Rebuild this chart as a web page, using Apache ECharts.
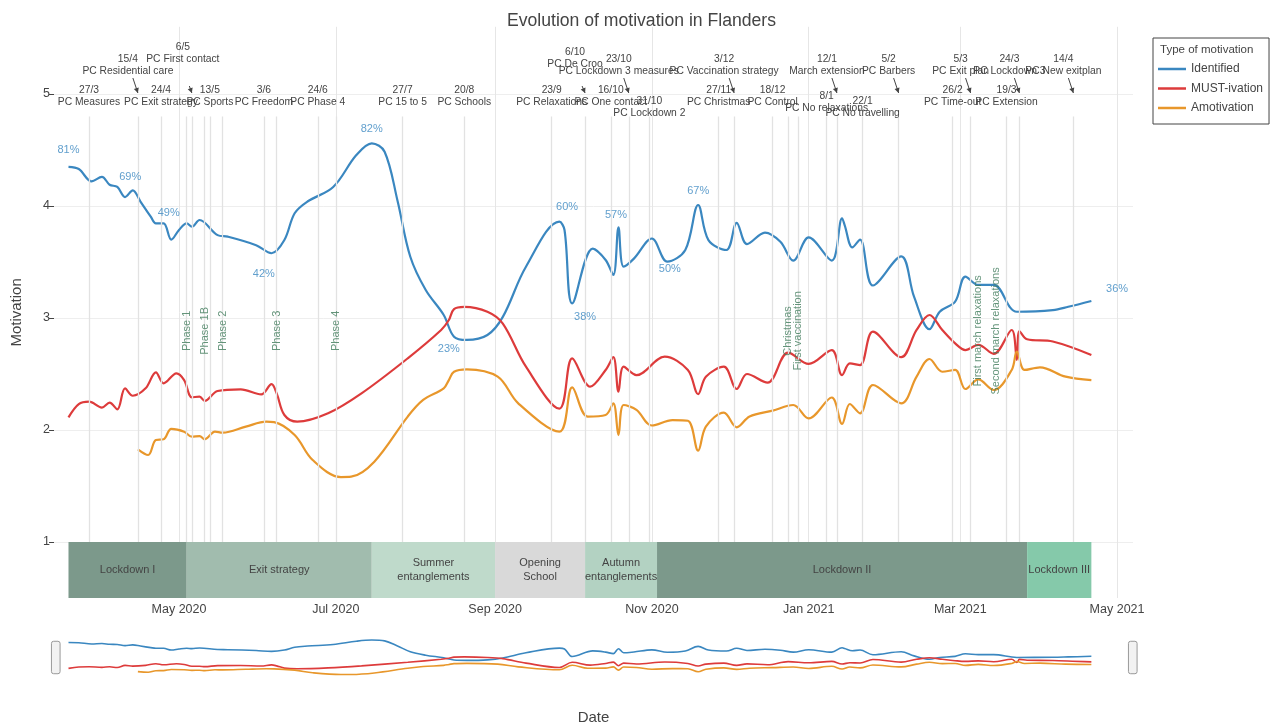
<!DOCTYPE html>
<html><head><meta charset="utf-8">
<script src="https://cdn.jsdelivr.net/npm/echarts@6/dist/echarts.min.js"></script>
<style>html,body{margin:0;padding:0;background:#fff}#c{width:1273px;height:724px}</style>
</head><body><div id="c"></div>
<script>
// ---------------- DATA ----------------
const seriesNames = ['Identified', 'MUST-ivation', 'Amotivation'];

const identified = [['2020-03-19',4.35],['2020-03-23',4.33],['2020-03-28',4.22],['2020-04-01',4.26],['2020-04-04',4.19],['2020-04-07',4.17],['2020-04-10',4.08],['2020-04-13',4.14],['2020-04-16',4.04],['2020-04-20',3.905],['2020-04-22',3.845],['2020-04-25',3.845],['2020-04-28',3.70],['2020-05-01',3.786],['2020-05-04',3.845],['2020-05-06',3.815],['2020-05-09',3.875],['2020-05-16',3.74],['2020-05-20',3.726],['2020-05-31',3.65],['2020-06-06',3.578],['2020-06-11',3.696],['2020-06-15',3.935],['2020-06-20',4.04],['2020-06-30',4.17],['2020-07-09',4.455],['2020-07-15',4.56],['2020-07-20',4.485],['2020-07-25',4.05],['2020-07-30',3.547],['2020-08-05',3.25],['2020-08-12',3.027],['2020-08-16',2.833],['2020-08-21',2.804],['2020-08-29',2.848],['2020-09-04',3.01],['2020-09-13',3.458],['2020-09-26',3.86],['2020-09-28',3.786],['2020-10-01',3.13],['2020-10-09',3.62],['2020-10-14',3.518],['2020-10-17',3.384],['2020-10-19',3.81],['2020-10-21',3.458],['2020-10-25',3.53],['2020-11-01',3.71],['2020-11-07',3.503],['2020-11-14',3.607],['2020-11-19',4.009],['2020-11-23',3.696],['2020-11-30',3.607],['2020-12-04',3.85],['2020-12-08',3.66],['2020-12-15',3.762],['2020-12-21',3.68],['2020-12-26',3.512],['2021-01-01',3.72],['2021-01-10',3.512],['2021-01-14',3.89],['2021-01-15',3.83],['2021-01-18',3.63],['2021-01-21',3.70],['2021-01-26',3.29],['2021-02-06',3.55],['2021-02-11',3.19],['2021-02-17',2.9],['2021-02-21',3.056],['2021-02-27',3.146],['2021-03-03',3.37],['2021-03-08',3.295],['2021-03-14',3.295],['2021-03-23',3.056],['2021-04-06',3.07],['2021-04-12',3.10],['2021-04-21',3.152]];

const mustivation = [['2020-03-19',2.113],['2020-03-23',2.232],['2020-03-27',2.253],['2020-04-01',2.2],['2020-04-04',2.244],['2020-04-07',2.185],['2020-04-10',2.372],['2020-04-13',2.306],['2020-04-18',2.372],['2020-04-22',2.515],['2020-04-25',2.417],['2020-04-30',2.506],['2020-05-03',2.446],['2020-05-06',2.292],['2020-05-09',2.298],['2020-05-11',2.26],['2020-05-16',2.348],['2020-05-25',2.363],['2020-06-02',2.318],['2020-06-06',2.41],['2020-06-08',2.327],['2020-06-11',2.134],['2020-06-16',2.074],['2020-06-28',2.149],['2020-07-11',2.327],['2020-07-29',2.64],['2020-08-11',2.893],['2020-08-14',2.982],['2020-08-16',3.08],['2020-08-20',3.1],['2020-08-29',3.056],['2020-09-04',2.95],['2020-09-13',2.565],['2020-09-26',2.19],['2020-10-01',2.64],['2020-10-08',2.387],['2020-10-14',2.536],['2020-10-17',2.65],['2020-10-19',2.342],['2020-10-21',2.565],['2020-10-26',2.49],['2020-11-06',2.655],['2020-11-15',2.536],['2020-11-19',2.32],['2020-11-22',2.476],['2020-11-29',2.565],['2020-12-04',2.366],['2020-12-08',2.5],['2020-12-16',2.423],['2020-12-24',2.69],['2021-01-01',2.59],['2021-01-10',2.714],['2021-01-14',2.49],['2021-01-17',2.595],['2021-01-21',2.58],['2021-01-26',2.878],['2021-02-06',2.65],['2021-02-12',2.893],['2021-02-17',3.027],['2021-02-22',2.893],['2021-02-27',2.774],['2021-03-03',2.714],['2021-03-08',2.76],['2021-03-14',2.68],['2021-03-21',2.893],['2021-03-23',2.625],['2021-03-24',2.884],['2021-03-27',2.81],['2021-04-06',2.79],['2021-04-21',2.67]];

const amotivation = [['2020-04-15',1.828],['2020-04-19',1.777],['2020-04-22',1.911],['2020-04-25',1.917],['2020-04-28',2.01],['2020-05-03',1.985],['2020-05-06',1.94],['2020-05-09',1.946],['2020-05-11',1.917],['2020-05-15',1.985],['2020-05-18',1.976],['2020-05-27',2.03],['2020-06-04',2.074],['2020-06-07',2.07],['2020-06-15',1.955],['2020-06-22',1.732],['2020-07-03',1.58],['2020-07-07',1.583],['2020-07-16',1.717],['2020-07-29',2.12],['2020-08-04',2.268],['2020-08-12',2.372],['2020-08-14',2.446],['2020-08-16',2.52],['2020-08-21',2.542],['2020-09-02',2.476],['2020-09-10',2.238],['2020-09-26',1.985],['2020-10-01',2.381],['2020-10-07',2.12],['2020-10-14',2.134],['2020-10-17',2.238],['2020-10-19',1.955],['2020-10-21',2.223],['2020-10-26',2.18],['2020-11-01',2.04],['2020-11-09',2.089],['2020-11-15',2.083],['2020-11-19',1.815],['2020-11-22',2.03],['2020-11-29',2.155],['2020-12-04',2.024],['2020-12-09',2.12],['2020-12-18',2.173],['2020-12-26',2.223],['2021-01-01',2.104],['2021-01-10',2.29],['2021-01-14',2.054],['2021-01-17',2.232],['2021-01-21',2.149],['2021-01-26',2.402],['2021-02-06',2.238],['2021-02-12',2.476],['2021-02-17',2.634],['2021-02-22',2.52],['2021-02-27',2.536],['2021-03-03',2.366],['2021-03-08',2.452],['2021-03-14',2.357],['2021-03-21',2.536],['2021-03-23',2.7],['2021-03-26',2.536],['2021-04-01',2.56],['2021-04-11',2.476],['2021-04-21',2.446]];

// press conferences
const pcDates = ['2020-03-27','2020-04-15','2020-04-24','2020-05-06','2020-05-13','2020-06-03','2020-06-24','2020-07-27','2020-08-20','2020-09-23','2020-10-06','2020-10-16','2020-10-23','2020-10-31','2020-11-27','2020-12-03','2020-12-18','2021-01-08','2021-01-12','2021-01-22','2021-02-05','2021-02-26','2021-03-05','2021-03-19','2021-03-24','2021-04-14'];
const pcShort = ['27/3','15/4','24/4','6/5','13/5','3/6','24/6','27/7','20/8','23/9','6/10','16/10','23/10','31/10','27/11','3/12','18/12','8/1','12/1','22/1','5/2','26/2','5/3','19/3','24/3','14/4'];
const pcTitles = ['PC Measures','PC Residential care','PC Exit strategy','PC First contact','PC Sports','PC Freedom','PC Phase 4','PC 15 to 5','PC Schools','PC Relaxations','PC De Croo','PC One contact','PC Lockdown 3 measures','PC Lockdown 2','PC Christmas','PC Vaccination strategy','PC Control','PC No relaxations','March extension','PC No travelling','PC Barbers','PC Time-out','PC Exit plan','PC Extension','PC Lockdown 3','PC New exitplan'];
const pcPlacement = ['level','arrow','level','high','level','level','level','level','level','level','high2','level','arrow','low','level','arrow','level','mid','arrow','low','arrow','level','arrow','level','arrow','arrow'];

// milestones (vertical green labels)
const milestoneDates = ['2020-05-04','2020-05-11','2020-05-18','2020-06-08','2020-07-01','2020-12-24','2020-12-28','2021-03-08','2021-03-15'];
const milestoneNames = ['Phase 1','Phase 1B','Phase 2','Phase 3','Phase 4','Christmas','First vaccination','First march relaxations','Second march relaxations'];
const milestoneHasLine = [true,true,true,true,true,true,true,false,false];

// periods
const periodNames = ['Lockdown I','Exit strategy','Summer\nentanglements','Opening\nSchool','Autumn\nentanglements','Lockdown II','Lockdown III'];
const periodStarts = ['2020-03-19','2020-05-04','2020-07-15','2020-09-01','2020-10-06','2020-11-03','2021-03-27'];
const periodEnds = ['2020-05-04','2020-07-15','2020-09-01','2020-10-06','2020-11-03','2021-03-27','2021-04-21'];

// percentage annotations
const pctDates = ['2020-03-19','2020-04-12','2020-04-27','2020-06-03','2020-07-15','2020-08-14','2020-09-29','2020-10-06','2020-10-18','2020-11-08','2020-11-19','2021-05-01'];
const pctLevels = [4.5,4.26,3.94,3.39,4.69,2.72,3.99,3.006,3.92,3.44,4.134,3.256];
const pctTexts = ['81%','69%','49%','42%','82%','23%','60%','38%','57%','50%','67%','36%'];

const yTicks = [1,2,3,4,5];
const xTickDates = ['2020-05-01','2020-07-01','2020-09-01','2020-11-01','2021-01-01','2021-03-01','2021-05-01'];

// ---------------- STYLE ----------------
const FONT = '"Liberation Sans", Arial, sans-serif';
const LINE_COLORS = ['#3a87c0', '#dd3b3b', '#e8972b'];
const PERIOD_COLORS = ['#7c998b','#a1bcae','#bfdacb','#d9d9d9','#b3d2c2','#7c998b','#85c9aa'];
const EVENT_LINE = '#e2e2e2';
const TXT = '#444';
const MILESTONE_COLOR = '#3f7a5a';

function ts(s) { return new Date(s + 'T00:00:00').getTime(); }
const DAY = 864e5;
const xMin = ts('2020-05-01') - 48.64 * DAY;
const xMax = ts('2021-05-01') + 6.2 * DAY;
const MONTHS = ['Jan','Feb','Mar','Apr','May','Jun','Jul','Aug','Sep','Oct','Nov','Dec'];
const xTicks = xTickDates.map(ts);

const toTs = arr => arr.map(p => [ts(p[0]), p[1]]);
const lineData = [toTs(identified), toTs(mustivation), toTs(amotivation)];

// annotation layout offsets (pixels, relative to (date, 5))
const PLACE = {
  level: { dx: 0, dy: 2 },
  mid:   { dx: 0, dy: 8 },
  low:   { dx: 0, dy: 13 },
  arrow: { dx: -10, dy: -29, tail: [-5, -16] },
  high:  { dx: -9, dy: -41, tail: [-2.5, -8] },
  high2: { dx: -10, dy: -35.5, tail: [-3, -8] }
};

const eventLineDates = pcDates.concat(milestoneDates.filter((d, i) => milestoneHasLine[i]));

const chart = echarts.init(document.getElementById('c'), null, { renderer: 'canvas' });

const mainLines = seriesNames.map((n, i) => ({
  name: n, type: 'line', xAxisIndex: 0, yAxisIndex: 0, z: 3,
  data: lineData[i], showSymbol: false, smooth: 0.35,
  lineStyle: { color: LINE_COLORS[i], width: 2.2 }, itemStyle: { color: LINE_COLORS[i] },
  emphasis: { disabled: true }
}));
mainLines[0].markArea = {
  silent: true,
  label: { show: true, position: 'inside', color: TXT, fontSize: 11, fontFamily: FONT, lineHeight: 14 },
  data: periodNames.map((n, i) => [
    { name: n, xAxis: ts(periodStarts[i]), yAxis: 0.5, itemStyle: { color: PERIOD_COLORS[i], opacity: 1 } },
    { xAxis: ts(periodEnds[i]), yAxis: 1 }
  ])
};

const sliderLines = seriesNames.map((n, i) => ({
  name: n, type: 'line', xAxisIndex: 1, yAxisIndex: 1, z: 3,
  data: lineData[i], showSymbol: false, smooth: 0.35, silent: true,
  lineStyle: { color: LINE_COLORS[i], width: 1.6 }, itemStyle: { color: LINE_COLORS[i] }
}));

function arrowHead(tx, ty, fx, fy) {
  const a = Math.atan2(ty - fy, tx - fx), L = 5, W = 2.6;
  const bx = tx - L * Math.cos(a), by = ty - L * Math.sin(a);
  return [[tx, ty], [bx + W * Math.sin(a), by - W * Math.cos(a)], [bx - W * Math.sin(a), by + W * Math.cos(a)]];
}

const option = {
  animation: false,
  backgroundColor: '#fff',
  textStyle: { fontFamily: FONT },
  title: [
    { text: 'Evolution of motivation in Flanders', left: 502, top: 7, textStyle: { fontSize: 17.6, fontWeight: 'normal', color: TXT, fontFamily: FONT } },
    { text: 'Type of motivation', left: 1155, top: 39, textStyle: { fontSize: 11.5, fontWeight: 'normal', color: TXT, fontFamily: FONT } }
  ],
  legend: {
    data: seriesNames, orient: 'vertical', left: 1153, top: 38,
    padding: [25, 6, 10, 5], itemGap: 7.5, itemWidth: 28, itemHeight: 2.5, icon: 'rect',
    borderColor: '#444', borderWidth: 1, selectedMode: false,
    textStyle: { fontSize: 12, color: TXT, fontFamily: FONT }
  },
  grid: [
    { left: 54, top: 26.8, width: 1079, height: 571.2, outerBoundsMode: 'none', containLabel: false },
    { left: 54, top: 628, width: 1079, height: 59, outerBoundsMode: 'none', containLabel: false }
  ],
  xAxis: [
    { type: 'value', gridIndex: 0, min: xMin, max: xMax, scale: true,
      axisLine: { show: false }, axisTick: { show: false, customValues: xTicks },
      axisLabel: { customValues: xTicks, color: TXT, fontSize: 12.5, margin: 5,
        formatter: v => { const d = new Date(v); return MONTHS[d.getMonth()] + ' ' + d.getFullYear(); } },
      splitLine: { show: true, lineStyle: { color: '#e6e6e6', width: 1 } },
      name: 'Date', nameLocation: 'middle', nameGap: 112, nameTextStyle: { fontSize: 15, color: TXT } },
    { type: 'value', gridIndex: 1, min: xMin, max: xMax, scale: true, show: false }
  ],
  yAxis: [
    { type: 'value', gridIndex: 0, min: 0.5, max: 5.6,
      axisLine: { show: false },
      axisTick: { show: true, length: 5, customValues: yTicks, lineStyle: { color: TXT } },
      axisLabel: { customValues: yTicks, color: TXT, fontSize: 12.5, margin: 4 },
      splitLine: { show: true, lineStyle: { color: '#eeeeee', width: 1 } },
      name: 'Motivation', nameLocation: 'middle', nameGap: 30, nameTextStyle: { fontSize: 15, color: TXT } },
    { type: 'value', gridIndex: 1, min: 0.5, max: 5.6, show: false }
  ],
  dataZoom: [{
    type: 'slider', xAxisIndex: 1, filterMode: 'none', left: 54, right: 140, top: 628, height: 59,
    start: 0, end: 100, showDataShadow: false, showDetail: false, brushSelect: false,
    backgroundColor: 'rgba(0,0,0,0)', fillerColor: 'rgba(0,0,0,0)', borderColor: 'rgba(0,0,0,0)',
    handleIcon: 'path://M2,0h4a2,2,0,0,1,2,2v26a2,2,0,0,1-2,2h-4a2,2,0,0,1-2-2v-26a2,2,0,0,1,2-2Z',
    handleSize: '55%', handleStyle: { color: '#f2f2f2', borderColor: '#999', borderWidth: 1 },
    moveHandleSize: 0, zoomLock: true
  }],
  series: [
    { name: 'events', type: 'line', xAxisIndex: 0, yAxisIndex: 0, data: [], z: 1, silent: true,
      markLine: { silent: true, symbol: ['none', 'none'], label: { show: false }, animation: false,
        lineStyle: { color: EVENT_LINE, width: 1.3, type: 'solid' },
        data: eventLineDates.map(d => [{ coord: [ts(d), 1] }, { coord: [ts(d), 4.8] }]) } },
    ...mainLines,
    ...sliderLines,
    { name: 'pct', type: 'scatter', xAxisIndex: 0, yAxisIndex: 0, symbolSize: 0, z: 5, silent: true,
      data: pctDates.map((d, i) => [ts(d), pctLevels[i]]),
      label: { show: true, position: 'inside', color: LINE_COLORS[0], fontSize: 11, fontFamily: FONT,
        formatter: p => pctTexts[p.dataIndex] } },
    { name: 'milestones', type: 'scatter', xAxisIndex: 0, yAxisIndex: 0, symbolSize: 0, z: 5, silent: true,
      data: milestoneDates.map(d => [ts(d), 2.885]),
      label: { show: true, position: 'inside', rotate: 90, color: MILESTONE_COLOR, fontSize: 11, fontFamily: FONT,
        formatter: p => milestoneNames[p.dataIndex] } },
    { name: 'pc', type: 'custom', xAxisIndex: 0, yAxisIndex: 0, z: 6, silent: true, clip: false,
      data: pcDates.map((d, i) => [ts(d), 5, i]),
      encode: { x: 0, y: 1 },
      renderItem: (params, api) => {
        const i = api.value(2);
        const p = api.coord([api.value(0), 5]);
        const L = PLACE[pcPlacement[i]];
        const children = [{
          type: 'text', x: p[0] + L.dx, y: p[1] + L.dy,
          style: { text: pcShort[i] + '\n' + pcTitles[i], align: 'center', verticalAlign: 'middle',
            fill: TXT, fontSize: 10.3, fontFamily: FONT, lineHeight: 12 }
        }];
        if (L.tail) {
          const fx = p[0] + L.tail[0], fy = p[1] + L.tail[1], tx = p[0], ty = p[1] - 1;
          children.push({ type: 'line', shape: { x1: fx, y1: fy, x2: tx, y2: ty }, style: { stroke: TXT, lineWidth: 1 } });
          children.push({ type: 'polygon', shape: { points: arrowHead(tx, ty, fx, fy) }, style: { fill: TXT } });
        }
        return { type: 'group', children };
      } }
  ]
};
chart.setOption(option);
</script>
</body></html>
